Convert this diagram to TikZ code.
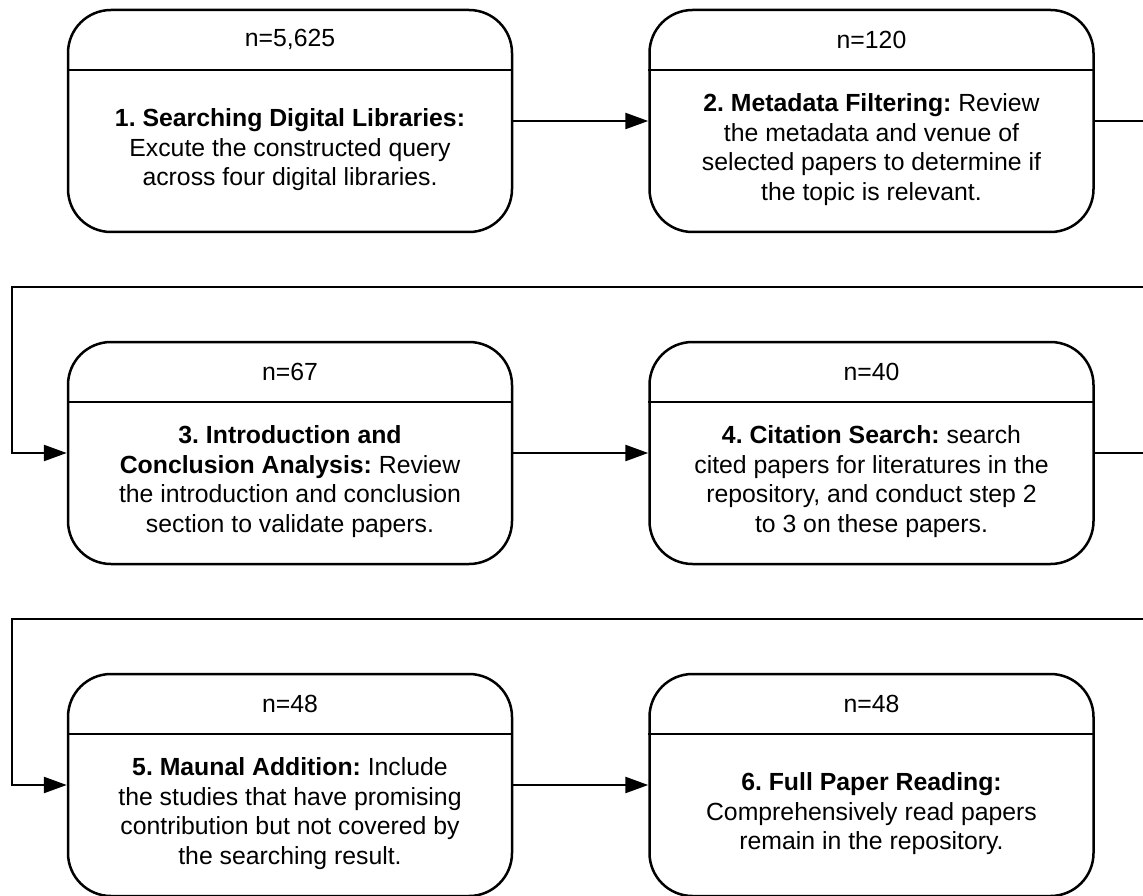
\documentclass[tikz,border=0pt]{standalone}
\usepackage{fontspec}
\setmainfont{Liberation Sans}
\usetikzlibrary{arrows.meta,calc}
\frenchspacing

\tikzset{
  stage/.style={draw, line width=2.5pt, rounded corners=43pt,
    minimum width=444pt, minimum height=222pt, inner sep=0pt},
  divider/.style={line width=2.2pt},
  count/.style={font=\fontsize{24.8}{29.5}\selectfont, inner sep=0pt},
  body/.style={font=\fontsize{24.8}{29.5}\selectfont, align=center, inner sep=0pt},
  flow/.style={line width=2.5pt, -{Triangle[length=23pt,width=16pt]}},
}

% a stage box: name, centre, count, description
\newcommand{\stagebox}[4]{%
  \node[stage] (#1) at #2 {};
  \draw[divider] ([yshift=-61pt]#1.north west) -- ([yshift=-61pt]#1.north east);
  \node[count] (#1n) at ([yshift=-31pt]#1.north) {#3};
  \node[body] (#1t) at ([yshift=-141pt]#1.north) {#4};
}

\begin{document}
\begin{tikzpicture}[x=1pt,y=-1pt]
  \clip (0,0) rectangle (1143,896);
  \fill[white] (0,0) rectangle (1143,896);

  \stagebox{b1}{(290,121)}{n=5,625}{\textbf{1. Searching Digital Libraries:}\\Excute the constructed query\\across four digital libraries.}
  \stagebox{b2}{(871.5,121)}{n=120}{\textbf{2. Metadata Filtering:} Review\\the metadata and venue of\\selected papers to determine if\\the topic is relevant.}
  \stagebox{b3}{(290,453)}{n=67}{\textbf{3. Introduction and}\\\textbf{Conclusion Analysis:} Review\\the introduction and conclusion\\section to validate papers.}
  \stagebox{b4}{(871.5,453)}{n=40}{\textbf{4. Citation Search:} search\\cited papers for literatures in the\\repository, and conduct step 2\\to 3 on these papers.}
  \stagebox{b5}{(290,785)}{n=48}{\textbf{5. Maunal Addition:} Include\\the studies that have promising\\contribution but not covered by\\the searching result.}
  \stagebox{b6}{(871.5,785)}{n=48}{\textbf{6. Full Paper Reading:}\\Comprehensively read papers\\remain in the repository.}

  % routing lanes for the row-to-row connectors
  \coordinate (rr) at (1175,0);
  \coordinate (ll) at (12,0);
  \coordinate (gap1) at (0,287);
  \coordinate (gap2) at (0,619);

  \draw[flow] (b1.east) -- (b2.west);
  \draw[flow] (b2.east) -- (b2.east -| rr) -- (rr |- gap1) -- (ll |- gap1) -- (ll |- b3.west) -- (b3.west);
  \draw[flow] (b3.east) -- (b4.west);
  \draw[flow] (b4.east) -- (b4.east -| rr) -- (rr |- gap2) -- (ll |- gap2) -- (ll |- b5.west) -- (b5.west);
  \draw[flow] (b5.east) -- (b6.west);
\end{tikzpicture}
\end{document}
